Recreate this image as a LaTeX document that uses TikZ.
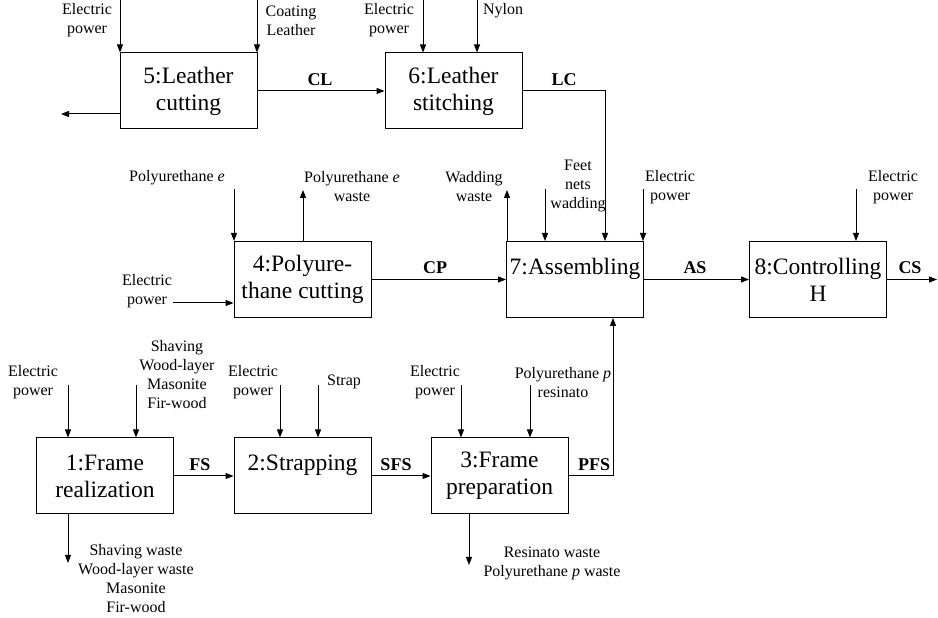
\documentclass[tikz,border=0pt]{standalone}
\usepackage{fontspec}
\setmainfont{Liberation Serif}
\usetikzlibrary{arrows.meta,calc}

\tikzset{
  proc/.style={draw, line width=1pt, minimum width=137pt, minimum height=76pt,
    inner sep=0pt, align=center, font=\fontsize{23.5}{27}\selectfont},
  lbl/.style={align=center, inner sep=0pt, font=\fontsize{16}{19}\selectfont},
  flow/.style={inner sep=0pt, font=\fontsize{18}{21}\selectfont\bfseries},
  arr/.style={line width=1pt, -{Triangle[length=8pt,width=6pt]}},
}

\begin{document}
\begin{tikzpicture}[x=1pt,y=1pt]
    \useasboundingbox (0,0) rectangle (938,618);

    % process boxes
    \node[proc] (lcut)    at (188.5,527)   {5:Leather\\cutting};
    \node[proc] (lstitch) at (453.5,527)   {6:Leather\\stitching};
    \node[proc] (pucut)   at (302.5,338.5) {4:Polyure-\\thane cutting};
    \node[proc] (assem)   at (575,338.5)   {7:Assembling\\\mbox{}};
    \node[proc] (ctrl)    at (818,338.5)   {8:Controlling\\H};
    \node[proc] (frame)   at (105,142)     {1:Frame\\realization};
    \node[proc] (strap)   at (302.5,142)   {2:Strapping\\\mbox{}};
    \node[proc] (prep)    at (499.5,142)   {3:Frame\\preparation};

    % free ends
    \coordinate (i5a) at (120,618);
    \coordinate (i5b) at (257,618);
    \coordinate (o5)  at (61,504);
    \coordinate (i6a) at (423,618);
    \coordinate (i6b) at (477,618);
    \coordinate (i4a) at (234,429);
    \coordinate (i4b) at (173,315);
    \coordinate (o4)  at (303,428);
    \coordinate (o7)  at (507,428);
    \coordinate (i7a) at (545,429);
    \coordinate (i7b) at (643,429);
    \coordinate (i8)  at (856,429);
    \coordinate (csend) at (937,338.5);
    \coordinate (i1a) at (68,233);
    \coordinate (i1b) at (136,233);
    \coordinate (o1)  at (68,55);
    \coordinate (i2a) at (280,233);
    \coordinate (i2b) at (318,233);
    \coordinate (i3a) at (461,233);
    \coordinate (i3b) at (530,233);
    \coordinate (o3)  at (469,53);
    \coordinate (lcin)  at ($(assem.north)+(30,0)$);
    \coordinate (pfsin) at ($(assem.south)+(38,0)$);

    % inputs and outputs
    \draw[arr] (i5a) -- (i5a |- lcut.north);
    \draw[arr] (i5b) -- (i5b |- lcut.north);
    \draw[arr] (o5 -| lcut.west) -- (o5);
    \draw[arr] (i6a) -- (i6a |- lstitch.north);
    \draw[arr] (i6b) -- (i6b |- lstitch.north);
    \draw[arr] (i4a) -- (i4a |- pucut.north);
    \draw[arr] (i4b) -- (i4b -| pucut.west);
    \draw[arr] (o4 |- pucut.north) -- (o4);
    \draw[arr] (o7 |- assem.north) -- (o7);
    \draw[arr] (i7a) -- (i7a |- assem.north);
    \draw[arr] (i7b) -- (i7b |- assem.north);
    \draw[arr] (i8) -- (i8 |- ctrl.north);
    \draw[arr] (i1a) -- (i1a |- frame.north);
    \draw[arr] (i1b) -- (i1b |- frame.north);
    \draw[arr] (o1 |- frame.south) -- (o1);
    \draw[arr] (i2a) -- (i2a |- strap.north);
    \draw[arr] (i2b) -- (i2b |- strap.north);
    \draw[arr] (i3a) -- (i3a |- prep.north);
    \draw[arr] (i3b) -- (i3b |- prep.north);
    \draw[arr] (o3 |- prep.south) -- (o3);

    % flows between boxes
    \draw[arr] (lcut.east) -- (lstitch.west);
    \draw[arr] (lstitch.east) -| (lcin);
    \draw[arr] (pucut.east) -- (assem.west);
    \draw[arr] (assem.east) -- (ctrl.west);
    \draw[arr] (ctrl.east) -- (csend);
    \draw[arr] (frame.east) -- (strap.west);
    \draw[arr] (strap.east) -- (prep.west);
    \draw[arr] (prep.east) -| (pfsin);

    % flow names
    \node[flow] (fcl)  at (320,538)   {CL};
    \node[flow] (flc)  at (564,538)   {LC};
    \node[flow] (fcp)  at (435,350)   {CP};
    \node[flow] (fas)  at (695,350)   {AS};
    \node[flow] (fcs)  at (910,350)   {CS};
    \node[flow] (ffs)  at (200,153)   {FS};
    \node[flow] (fsfs) at (396,153)   {SFS};
    \node[flow] (fpfs) at (594,153)   {PFS};

    % labels
    \node[lbl] (l5a) at (87,597.5)   {Electric\\power};
    \node[lbl] (l5b) at (291,597.5)  {Coating\\Leather};
    \node[lbl] (l6a) at (389,597.5)  {Electric\\power};
    \node[lbl] (l6b) at (503,607)    {Nylon};
    \node[lbl] (l4a) at (177,440)    {Polyurethane \textit{e}};
    \node[lbl] (l4o) at (352,431)    {Polyurethane \textit{e}\\waste};
    \node[lbl] (l4b) at (147,326.5)  {Electric\\power};
    \node[lbl] (l7o) at (474,431)    {Wadding\\waste};
    \node[lbl] (l7a) at (578,432)    {Feet\\nets\\wadding};
    \node[lbl] (l7b) at (670,431)    {Electric\\power};
    \node[lbl] (l8)  at (893,431)    {Electric\\power};
    \node[lbl] (l1a) at (33,235.5)   {Electric\\power};
    \node[lbl] (l1b) at (177,243.5)  {Shaving\\Wood-layer\\Masonite\\Fir-wood};
    \node[lbl] (l1o) at (136,39.5)   {Shaving waste\\Wood-layer waste\\Masonite\\Fir-wood};
    \node[lbl] (l2a) at (253,235.5)  {Electric\\power};
    \node[lbl] (l2b) at (344,236)    {Strap};
    \node[lbl] (l3a) at (435,235.5)  {Electric\\power};
    \node[lbl] (l3b) at (563,235.5)  {Polyurethane \textit{p}\\resinato};
    \node[lbl] (l3o) at (552,54.5)   {Resinato waste\\Polyurethane \textit{p} waste};

\end{tikzpicture}
\end{document}
